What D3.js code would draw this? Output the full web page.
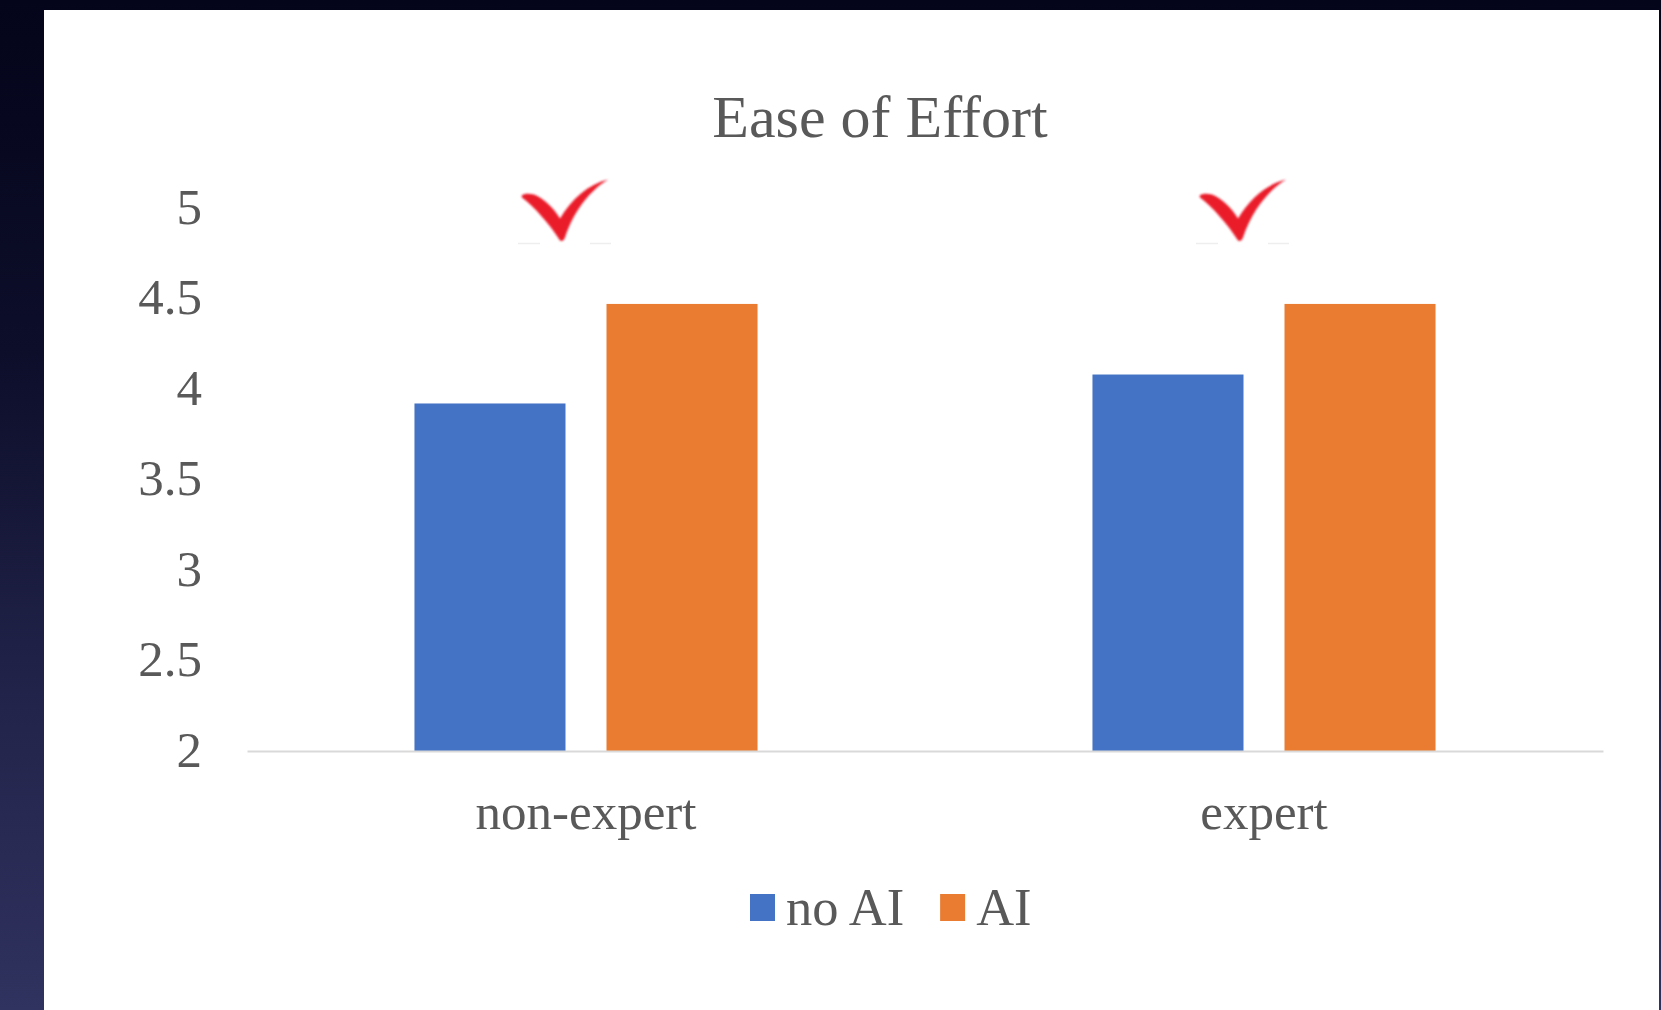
<!DOCTYPE html>
<html>
<head>
<meta charset="utf-8">
<script src="https://cdn.jsdelivr.net/npm/d3@7"></script>
<style>
  html, body { margin: 0; padding: 0; }
  body {
    width: 1661px; height: 1010px; overflow: hidden;
    background: linear-gradient(to bottom, #04041a 0%, #0d0e2a 35%, #22244b 70%, #30325f 100%);
  }
  svg { display: block; }
  text { font-family: "Liberation Serif", "Times New Roman", serif; fill: #595959; }
</style>
</head>
<body>
<svg id="chart" width="1661" height="1010"></svg>
<script>
// ---- data ----
const categories = ["non-expert", "expert"];
const seriesNames = ["no AI", "AI"];
const noAI = [3.92, 4.08];
const withAI = [4.47, 4.47];
const yTicks = [2, 2.5, 3, 3.5, 4, 4.5, 5];
const yTickLabels = ["2", "2.5", "3", "3.5", "4", "4.5", "5"];
const checkmarkAt = [4.82, 4.82];   // vertical level of the check annotations
const title = "Ease of Effort";
const colors = ["#4472C4", "#E97C30"];

const series = [noAI, withAI];
const rows = categories.map((c, i) => ({ cat: c, vals: series.map((s, j) => ({ name: seriesNames[j], v: s[i], j })) }));

// ---- layout ----
const svg = d3.select("#chart");
// white panel
svg.append("rect").attr("x", 44).attr("y", 10).attr("width", 1615).attr("height", 1000).attr("fill", "#ffffff");

const plot = { left: 247, right: 1603, top: 208, bottom: 751 };

const x0 = d3.scaleBand().domain(categories).range([plot.left, plot.right])
  .paddingInner(0.494).paddingOuter(0.247);
const x1 = d3.scaleBand().domain(seriesNames).range([0, x0.bandwidth()])
  .paddingInner(0.2135).paddingOuter(0);
const y = d3.scaleLinear().domain([2, 5]).range([plot.bottom, plot.top]);

// title
svg.append("text").attr("x", 880).attr("y", 137).attr("text-anchor", "middle")
  .attr("font-size", 60).text(title);

// bars
const groups = svg.append("g").selectAll("g").data(rows).join("g")
  .attr("transform", d => `translate(${x0(d.cat)},0)`);
groups.selectAll("rect").data(d => d.vals).join("rect")
  .attr("x", d => x1(d.name))
  .attr("width", x1.bandwidth())
  .attr("y", d => y(d.v))
  .attr("height", d => y(2) - y(d.v))
  .attr("fill", d => colors[d.j]);

// y axis
const yAxis = svg.append("g").attr("transform", `translate(${plot.left},0)`)
  .call(d3.axisLeft(y).tickValues(yTicks).tickFormat((d, i) => yTickLabels[i]).tickSize(0).tickPadding(45));
yAxis.select(".domain").remove();
yAxis.selectAll("text").attr("font-size", 51).attr("dy", "0.3em").attr("font-family", "Liberation Serif, Times New Roman, serif").attr("fill", "#595959");

// x axis
const xAxis = svg.append("g").attr("transform", `translate(0,${plot.bottom})`)
  .call(d3.axisBottom(x0).tickSize(0).tickSizeOuter(0).tickPadding(42));
xAxis.select(".domain").attr("stroke", "#d9d9d9").attr("stroke-width", 2);
xAxis.selectAll("text").attr("font-size", 51).attr("font-family", "Liberation Serif, Times New Roman, serif").attr("fill", "#595959");

// check annotations
const defs = svg.append("defs");
defs.append("filter").attr("id", "soft").append("feGaussianBlur").attr("stdDeviation", 0.9);
const checkPath = "M0,0 C-10,-16 -26,-34 -38,-43 C-40,-46 -34,-48 -26,-46 C-16,-42 -6,-32 0,-22 C12,-42 28,-56 48,-61 C30,-50 14,-30 5,-3 C4,0 2,1 0,0 Z";
const checks = svg.append("g").selectAll("g").data(categories).join("g")
  .attr("transform", (d, i) => `translate(${x0(d) + x0.bandwidth() / 2 - 26},${y(checkmarkAt[i])})`);
checks.append("line").attr("x1", -42).attr("x2", 51).attr("y1", 3).attr("y2", 3)
  .attr("stroke", "#eeeeee").attr("stroke-width", 1.5).attr("stroke-dasharray", "22,50,21");
checks.append("path").attr("d", checkPath).attr("fill", "#ea1c2c").attr("filter", "url(#soft)");

// legend
const legend = svg.append("g");
let lx = 750;
seriesNames.forEach((name, i) => {
  legend.append("rect").attr("x", lx).attr("y", 894).attr("width", 25).attr("height", 27).attr("fill", colors[i]);
  const t = legend.append("text").attr("x", lx + 36).attr("y", 925).attr("font-size", 52.5).text(name);
  const w = t.node().getComputedTextLength();
  lx = lx + 36 + w + 36;
});
</script>
</body>
</html>
